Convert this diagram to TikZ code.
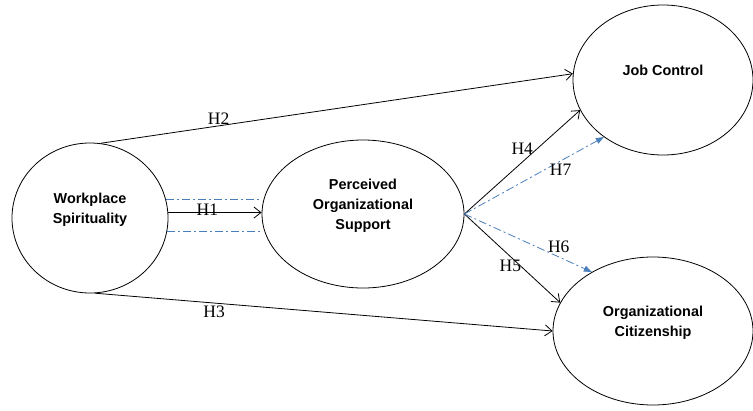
\documentclass[tikz,border=0pt]{standalone}
\usepackage{fontspec}
\setmainfont{Liberation Serif}
\newfontfamily\boxfont{Liberation Sans}
\usetikzlibrary{arrows.meta,shapes.geometric}
\definecolor{pathblue}{RGB}{74,126,187}
\tikzset{
	factor/.style={ellipse, draw, line width=0.8pt, align=center, font=\boxfont\bfseries\fontsize{14.4}{20}\selectfont},
	hpath/.style={line width=0.8pt, -{Straight Barb[length=7pt,width=11pt]}},
	mpath/.style={line width=0.8pt, color=pathblue, dash pattern=on 8pt off 3pt on 2pt off 3pt},
	hlabel/.style={font=\fontsize{17.5}{19}\selectfont, inner sep=1pt}
}

\begin{document}
\begin{tikzpicture}[x=1pt,y=-1pt]
		%%%%% START %%%%%
		\useasboundingbox (0, 0) rectangle (753, 410);
		
		\node[factor, minimum width=156pt, minimum height=150pt] (ws) at (90, 218) {Workplace\\Spirituality\\\mbox{}};
		\node[factor, minimum width=202pt, minimum height=148pt] (pos) at (363, 214) {Perceived\\Organizational\\Support\\\mbox{}};
		\node[factor, minimum width=180pt, minimum height=150pt] (jc) at (663, 80) {Job Control\\\mbox{}};
		\node[factor, minimum width=200pt, minimum height=148pt] (oc) at (653, 331) {Organizational\\Citizenship\\\mbox{}};
		
		% direct paths
		\draw[hpath] (ws.4) -- (ws.4 -| pos.west) node[hlabel, pos=0.42, yshift=3pt] {H1};
		\draw[hpath] (ws.82) -- (jc.176) node[hlabel, pos=0.25, above=0pt] {H2};
		\draw[hpath] (ws.-86) -- (oc.west) node[hlabel, pos=0.26, below=1pt] {H3};
		\draw[hpath] (pos.east) -- (jc.200) node[hlabel, pos=0.5, above=6pt] {H4};
		\draw[hpath] (pos.east) -- (oc.163) node[hlabel, pos=0.48, below=2pt] {H5};
		
		% mediation
		\draw[mpath] (ws.14) -- (ws.14 -| pos.west);
		\draw[mpath] (ws.-10) -- (ws.-10 -| pos.west);
		\draw[mpath, -{Triangle[length=8pt,width=6pt]}] (pos.east) -- (oc.136) node[hlabel, color=black, pos=0.74, above=3pt] {H6};
		\draw[mpath, -{Triangle[length=8pt,width=6pt]}] (pos.east) -- (jc.224) node[hlabel, color=black, pos=0.69, below=2pt] {H7};
		
		%%%%% END %%%%%
	\end{tikzpicture}
\end{document}
